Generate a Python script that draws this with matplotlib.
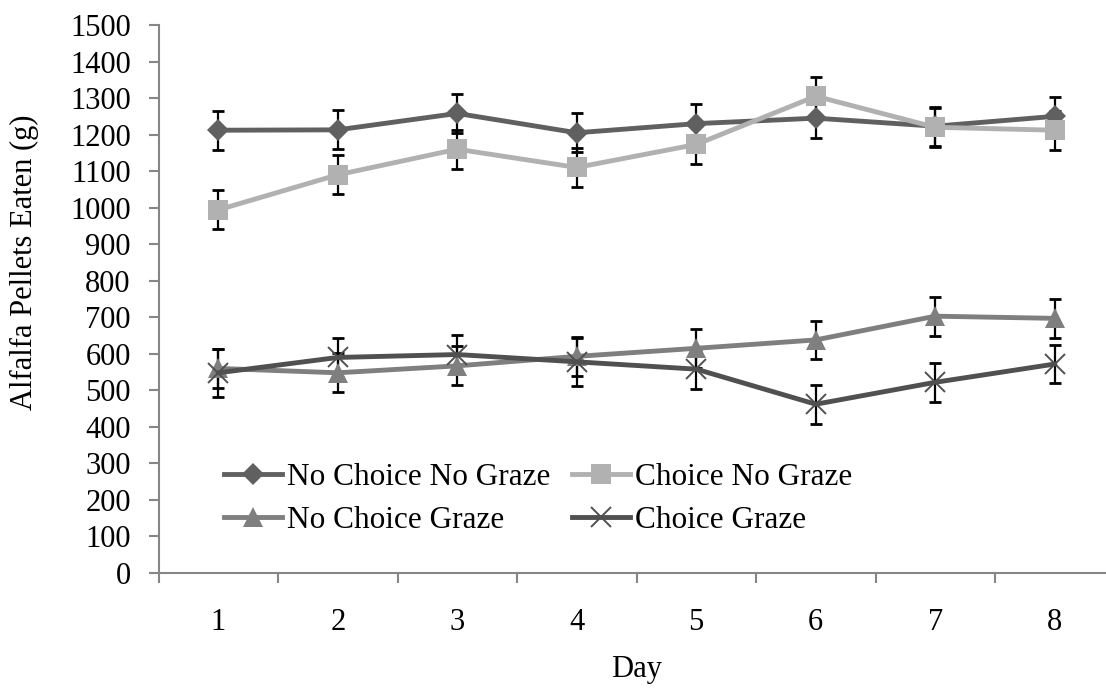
import matplotlib.pyplot as plt

plt.rcParams['font.family'] = ['Liberation Serif', 'DejaVu Serif']

days = [1, 2, 3, 4, 5, 6, 7, 8]

no_choice_no_graze = [1212, 1213, 1258, 1205, 1230, 1245, 1223, 1250]
no_choice_no_graze_err = [53, 53, 53, 53, 53, 53, 53, 53]

choice_no_graze = [994, 1090, 1160, 1110, 1173, 1305, 1220, 1212]
choice_no_graze_err = [53, 53, 53, 53, 53, 53, 53, 53]

no_choice_graze = [560, 548, 567, 593, 615, 638, 703, 697]
no_choice_graze_err = [53, 53, 53, 53, 53, 53, 53, 53]

choice_graze = [548, 590, 598, 578, 558, 462, 522, 572]
choice_graze_err = [65, 53, 53, 65, 53, 53, 53, 53]

labels = ['No Choice No Graze', 'Choice No Graze', 'No Choice Graze', 'Choice Graze']
series = [no_choice_no_graze, choice_no_graze, no_choice_graze, choice_graze]
errors = [no_choice_no_graze_err, choice_no_graze_err, no_choice_graze_err, choice_graze_err]
colors = ['#606060', '#b1b1b1', '#7f7f7f', '#505050']
markers = ['D', 's', '^', 'x']
sizes = [11, 14, 14, 15]

FS = 22

fig = plt.figure(figsize=(11.06, 6.9), dpi=100)
# plot area: x axis starts at 158 px and runs slightly past the right edge
ax = fig.add_axes([158.5 / 1106, 1 - 573 / 690, 956 / 1106, 548 / 690])

handles = {}
for vals, err, lab, col, mk, ms in zip(series, errors, labels, colors, markers, sizes):
    ax.errorbar(days, vals, yerr=err, fmt='none', ecolor='black',
                elinewidth=1.6, capsize=4.5, capthick=2, zorder=2)
    mew = 1.4 if mk == 'x' else 0
    line, = ax.plot(days, vals, color=col, lw=3.5, marker=mk, ms=ms,
                    mew=mew, mec=col, mfc=col, zorder=3, label=lab)
    handles[lab] = line

ax.set_xlim(0.5, 8.5)
ax.set_ylim(0, 1500)
ax.set_yticks(range(0, 1501, 100))
ax.set_xticks(days)
ax.set_xticks([d + 0.5 for d in range(0, 8)], minor=True)
ax.tick_params(axis='x', which='major', length=0, pad=25, labelsize=FS)
ax.tick_params(axis='x', which='minor', length=7, width=1.5,
               color='#868686', direction='out')
ax.tick_params(axis='y', length=7, width=1.5, color='#868686',
               direction='out', labelsize=FS, pad=13)

for s in ['top', 'right']:
    ax.spines[s].set_visible(False)
for s in ['left', 'bottom']:
    ax.spines[s].set_color('#868686')
    ax.spines[s].set_linewidth(1.5)

fig.text(24 / 1106, 1 - 262 / 690, 'Alfalfa Pellets Eaten (g)', fontsize=FS,
         rotation=90, ha='center', va='center')
ax.set_xlabel('Day', fontsize=FS, labelpad=13)

order = ['No Choice No Graze', 'No Choice Graze', 'Choice No Graze', 'Choice Graze']
ax.legend([handles[k] for k in order], order, ncol=2, frameon=False,
          fontsize=22.5, loc='lower left', bbox_to_anchor=(0.069, 0.07),
          handlelength=1.85, handletextpad=0.15, columnspacing=0.7,
          labelspacing=0.43, borderaxespad=0, borderpad=0)

fig.savefig('out.png', dpi=100)
